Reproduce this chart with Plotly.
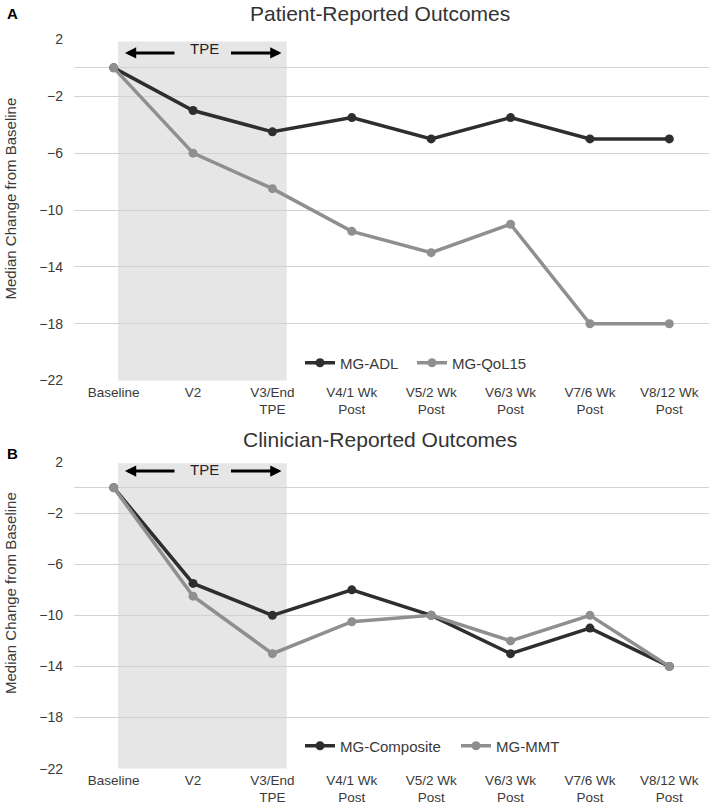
import plotly.graph_objects as go

categories = ["Baseline", "V2", "V3/End<br>TPE", "V4/1 Wk<br>Post", "V5/2 Wk<br>Post",
              "V6/3 Wk<br>Post", "V7/6 Wk<br>Post", "V8/12 Wk<br>Post"]
mg_adl = [0, -3, -4.5, -3.5, -5, -3.5, -5, -5]
mg_qol15 = [0, -6, -8.5, -11.5, -13, -11, -18, -18]
mg_composite = [0, -7.5, -10, -8, -10, -13, -11, -14]
mg_mmt = [0, -8.5, -13, -10.5, -10, -12, -10, -14]
y_ticks = [2, -2, -6, -10, -14, -18, -22]

W, H = 709, 804
FONT = "Liberation Sans, Arial, Helvetica, sans-serif"
DARK = "#2e2e2e"
GRAY = "#8f8f8f"
GRID = "#d2d2d2"
TXT = "#3a3a3a"

def py(pix):
    return (H - pix) / H

def px(pix):
    return pix / W

fig = go.Figure()

def add_series(y, name, color, xa, ya, leg, lw=None):
    fig.add_trace(go.Scatter(
        x=categories, y=y, name=name, mode="lines+markers",
        line=dict(color=color, width=3.5),
        marker=dict(color=color, size=9),
        xaxis=xa, yaxis=ya, legend=leg, legendwidth=lw))

add_series(mg_adl, "MG-ADL", DARK, "x", "y", "legend", 67)
add_series(mg_qol15, "MG-QoL15", GRAY, "x", "y", "legend")
add_series(mg_composite, "MG-Composite", DARK, "x2", "y2", "legend2", 111)
add_series(mg_mmt, "MG-MMT", GRAY, "x2", "y2", "legend2")

xdom = [px(74), 1.0]
common_x = dict(domain=xdom, type="category", range=[-0.5, 7.5], showgrid=False,
                zeroline=False, showline=False, ticks="", automargin=False,
                tickfont=dict(family=FONT, size=13.5, color=TXT),
                ticklabelstandoff=1, fixedrange=True)
common_y = dict(range=[-22.03, 2.03], tickvals=y_ticks, showgrid=True, gridcolor=GRID, gridwidth=1,
                zeroline=True, zerolinecolor=GRID, zerolinewidth=1, showline=False, ticks="",
                automargin=False,
                tickfont=dict(family=FONT, size=14, color=TXT), ticklabelstandoff=10, fixedrange=True)

fig.update_layout(
    width=W, height=H, autosize=False,
    margin=dict(l=0, r=0, t=0, b=0, autoexpand=False),
    paper_bgcolor="white", plot_bgcolor="white",
    xaxis=dict(anchor="y", **common_x),
    yaxis=dict(anchor="x", domain=[py(381), py(39)], **common_y),
    xaxis2=dict(anchor="y2", **common_x),
    yaxis2=dict(anchor="x2", domain=[py(769), py(461.7)], **common_y),
    legend=dict(orientation="h", x=px(300), y=py(363), xanchor="left", yanchor="middle",
                bgcolor="rgba(0,0,0,0)", font=dict(family=FONT, size=15, color=TXT)),
    legend2=dict(orientation="h", x=px(300), y=py(746), xanchor="left", yanchor="middle",
                 bgcolor="rgba(0,0,0,0)", font=dict(family=FONT, size=15, color=TXT)),
    showlegend=True,
)

# TPE shaded periods
for xr, yr, top in (("x", "y", 1.85), ("x2", "y2", 1.9)):
    fig.add_shape(type="rect", xref=xr, yref=yr, x0=0.055, x1=2.18, y0=-22, y1=top,
                  fillcolor="#e6e6e6", line=dict(width=0), layer="below")

annotations = []
# TPE arrows and label
for xr, yr, ya, yt in (("x", "y", 1.05, 1.33), ("x2", "y2", 1.3, 1.45)):
    annotations.append(dict(x=0.142, y=ya, ax=0.785, ay=ya, xref=xr, yref=yr, axref=xr, ayref=yr,
                            text="", showarrow=True, arrowhead=2, arrowsize=0.75, arrowwidth=3,
                            arrowcolor="black", standoff=0))
    annotations.append(dict(x=2.114, y=ya, ax=1.459, ay=ya, xref=xr, yref=yr, axref=xr, ayref=yr,
                            text="", showarrow=True, arrowhead=2, arrowsize=0.75, arrowwidth=3,
                            arrowcolor="black", standoff=0))
    annotations.append(dict(x=1.15, y=yt, xref=xr, yref=yr, text="TPE", showarrow=False,
                            font=dict(family=FONT, size=15, color="#222")))

# Panel titles
annotations.append(dict(x=px(380), y=1.0, xref="paper", yref="paper", text="Patient-Reported Outcomes",
                        showarrow=False, xanchor="center", yanchor="top",
                        font=dict(family=FONT, size=21, color="#333")))
annotations.append(dict(x=px(380), y=py(439.2), xref="paper", yref="paper", text="Clinician-Reported Outcomes",
                        showarrow=False, xanchor="center", yanchor="middle",
                        font=dict(family=FONT, size=21, color="#333")))

# Panel letters and y-axis titles
for letter, ylet, ymid in (("A", 14, 198.5), ("B", 453, 593)):
    annotations.append(dict(x=px(12.5), y=py(ylet), xref="paper", yref="paper", text="<b>" + letter + "</b>",
                            showarrow=False, xanchor="center", yanchor="middle",
                            font=dict(family=FONT, size=15, color="black")))
    annotations.append(dict(x=px(10), y=py(ymid), xref="paper", yref="paper",
                            text="Median Change from Baseline", textangle=-90,
                            showarrow=False, xanchor="center", yanchor="middle",
                            font=dict(family=FONT, size=15, color=TXT)))

fig.update_layout(annotations=annotations)
fig.write_html("out.html", config={"displayModeBar": False},
               post_script="document.body.style.margin='0';document.body.style.overflow='hidden';")
